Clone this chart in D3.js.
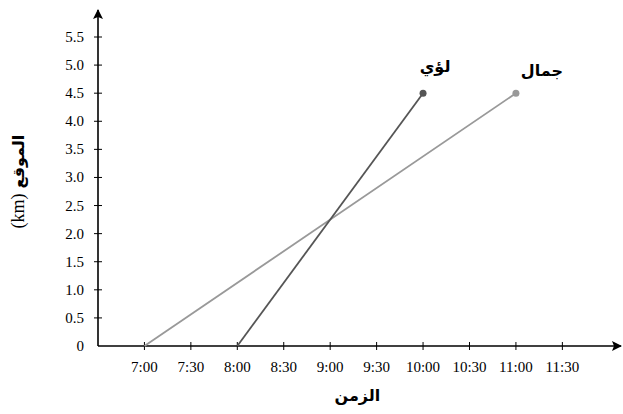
<!DOCTYPE html>
<html><head><meta charset="utf-8">
<script src="https://cdn.jsdelivr.net/npm/d3@7"></script>
<style>body{margin:0;background:#fff}svg{display:block}</style>
</head><body>
<script>
const xTickValues = [7, 7.5, 8, 8.5, 9, 9.5, 10, 10.5, 11, 11.5];
const xTickLabels = ["7:00","7:30","8:00","8:30","9:00","9:30","10:00","10:30","11:00","11:30"];
const yTickValues = [0, 0.5, 1, 1.5, 2, 2.5, 3, 3.5, 4, 4.5, 5, 5.5];
const yTickLabels = ["0","0.5","1.0","1.5","2.0","2.5","3.0","3.5","4.0","4.5","5.0","5.5"];
const seriesNames = ["جمال", "لؤي"];
const seriesTimes = [[7, 11], [8, 10]];
const seriesPositions = [[0, 4.5], [0, 4.5]];
const seriesColors = ["#999999", "#555555"];
const labelDx = [26, 12];
const labelDy = [-17, -21];
const xTitle = "الزمن";
const yTitleArabic = "الموقع";
const yTitleUnit = "(km)";

const W = 623, H = 414;
const svg = d3.select("body").append("svg").attr("width", W).attr("height", H);
const x = d3.scaleLinear().domain([6.5, 12]).range([98, 608.8]);
const y = d3.scaleLinear().domain([0, 5.5]).range([346, 37]);
const serif = "'Liberation Serif', 'Times New Roman', serif";
const arabicFont = "'DejaVu Sans', sans-serif";

svg.append("defs").append("marker").attr("id","arr").attr("viewBox","0 0 10 10")
  .attr("refX",9).attr("refY",5).attr("markerWidth",10).attr("markerHeight",10)
  .attr("markerUnits","userSpaceOnUse").attr("orient","auto")
  .append("path").attr("d","M0,0 L10,5 L0,10 L2,5 Z").attr("fill","#000");

svg.append("line").attr("x1", x(6.5)).attr("y1", y(0)).attr("x2", 621).attr("y2", y(0))
  .attr("stroke","#000").attr("stroke-width",1.6).attr("marker-end","url(#arr)");
svg.append("line").attr("x1", x(6.5)).attr("y1", y(0)).attr("x2", x(6.5)).attr("y2", 10)
  .attr("stroke","#000").attr("stroke-width",1.6).attr("marker-end","url(#arr)");

const xg = svg.append("g");
xg.selectAll("line").data(xTickValues).join("line")
  .attr("x1", d => x(d)).attr("x2", d => x(d)).attr("y1", y(0) - 4).attr("y2", y(0) + 4)
  .attr("stroke","#000").attr("stroke-width",1);
xg.selectAll("text").data(xTickValues).join("text")
  .attr("x", d => x(d)).attr("y", 372).attr("text-anchor","middle")
  .attr("font-family", serif).attr("font-size", 15).attr("fill","#000")
  .text((d,i) => xTickLabels[i]);

const yg = svg.append("g");
yg.selectAll("line").data(yTickValues.filter(d => d > 0)).join("line")
  .attr("x1", x(6.5) - 4).attr("x2", x(6.5) + 4).attr("y1", d => y(d)).attr("y2", d => y(d))
  .attr("stroke","#000").attr("stroke-width",1);
yg.selectAll("text").data(yTickValues).join("text")
  .attr("x", 84).attr("y", d => y(d) + 5).attr("text-anchor","end")
  .attr("font-family", serif).attr("font-size", 15).attr("fill","#000")
  .text((d,i) => yTickLabels[i]);

seriesNames.forEach((name, i) => {
  const pts = seriesTimes[i].map((t, j) => [t, seriesPositions[i][j]]);
  svg.append("path").datum(pts)
    .attr("d", d3.line().x(d => x(d[0])).y(d => y(d[1])))
    .attr("fill","none").attr("stroke", seriesColors[i]).attr("stroke-width", 1.8);
  const last = pts[pts.length - 1];
  svg.append("circle").attr("cx", x(last[0])).attr("cy", y(last[1])).attr("r", 3.5)
    .attr("fill", seriesColors[i]);
  svg.append("text").attr("x", x(last[0]) + labelDx[i]).attr("y", y(last[1]) + labelDy[i])
    .attr("text-anchor","middle").attr("font-family", arabicFont)
    .attr("font-weight","bold").attr("font-size", 16).attr("fill","#000").text(name);
});

svg.append("text").attr("x", (x(6.5) + x(12)) / 2 + 4).attr("y", 401).attr("text-anchor","middle")
  .attr("font-family", arabicFont).attr("font-weight","bold").attr("font-size",16)
  .attr("fill","#000").text(xTitle);

const yt = svg.append("g").attr("transform", `translate(24, ${(y(0) + y(5.5)) / 2}) rotate(-90)`);
yt.append("text").attr("x", -2).attr("y", 0).attr("text-anchor","end")
  .attr("font-family", serif).attr("font-size", 18).attr("fill","#000").text(yTitleUnit);
yt.append("text").attr("x", 3).attr("y", 0).attr("text-anchor","start")
  .attr("font-family", arabicFont).attr("font-weight","bold").attr("font-size", 16)
  .attr("fill","#000").text(yTitleArabic);
</script>
</body></html>
